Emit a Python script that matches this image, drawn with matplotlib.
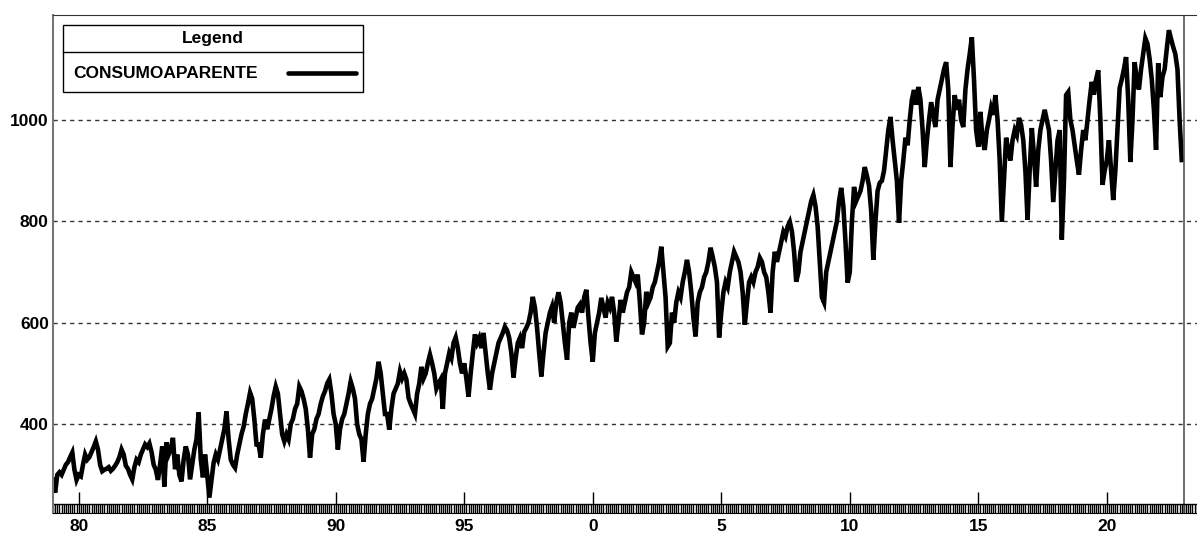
import numpy as np
import matplotlib.pyplot as plt
from matplotlib.ticker import MultipleLocator
from matplotlib.patches import Rectangle

plt.rcParams['font.family'] = ['Liberation Sans', 'DejaVu Sans']
plt.rcParams['font.weight'] = 'bold'

series_name = 'CONSUMOAPARENTE'
start_year = 1979
# monthly values, one row per year (Jan..Dec)
consumo = [
    290, 265, 300, 305, 300, 310, 320, 325, 335, 344, 310, 290,    # 1979
    300, 297, 320, 340, 330, 335, 345, 355, 366, 350, 320, 307,    # 1980
    310, 312, 315, 308, 312, 318, 325, 335, 350, 340, 318, 312,    # 1981
    300, 291, 315, 330, 325, 340, 350, 360, 355, 362, 345, 320,    # 1982
    310, 290, 320, 356, 277, 364, 340, 350, 373, 311, 340, 300,    # 1983
    287, 330, 356, 340, 291, 320, 350, 370, 423, 330, 295, 340,    # 1984
    300, 255, 290, 324, 340, 330, 350, 370, 390, 425, 370, 330,    # 1985
    320, 314, 340, 360, 380, 395, 420, 440, 462, 450, 410, 360,    # 1986
    360, 334, 380, 409, 390, 410, 430, 455, 474, 460, 420, 380,    # 1987
    366, 380, 370, 400, 410, 430, 440, 474, 465, 450, 430, 390,    # 1988
    334, 380, 390, 410, 420, 440, 455, 465, 480, 488, 460, 420,    # 1989
    400, 350, 390, 410, 420, 440, 460, 484, 470, 450, 400, 380,    # 1990
    370, 326, 380, 420, 440, 450, 470, 490, 523, 500, 460, 420,    # 1991
    420, 389, 430, 460, 470, 480, 504, 490, 500, 488, 452, 440,    # 1992
    430, 420, 460, 480, 513, 490, 500, 520, 537, 520, 500, 470,    # 1993
    480, 488, 430, 500, 520, 540, 530, 560, 571, 550, 520, 500,    # 1994
    520, 490, 454, 500, 540, 577, 560, 570, 550, 580, 540, 500,    # 1995
    468, 500, 520, 540, 560, 570, 580, 592, 585, 570, 540, 492,    # 1996
    530, 560, 570, 550, 582, 590, 600, 620, 651, 630, 590, 540,    # 1997
    494, 540, 580, 600, 620, 632, 600, 640, 660, 640, 600, 560,    # 1998
    527, 600, 620, 590, 610, 630, 636, 620, 650, 665, 610, 560,    # 1999
    523, 580, 600, 620, 649, 630, 610, 640, 630, 651, 620, 563,    # 2000
    600, 645, 620, 640, 660, 670, 700, 690, 680, 695, 640, 577,    # 2001
    600, 661, 640, 650, 670, 680, 700, 720, 750, 700, 650, 553,    # 2002
    560, 620, 600, 640, 660, 650, 680, 700, 724, 700, 660, 610,    # 2003
    573, 640, 660, 670, 690, 700, 720, 748, 730, 710, 680, 571,    # 2004
    620, 660, 680, 670, 700, 720, 740, 730, 720, 700, 660, 596,    # 2005
    640, 680, 690, 680, 700, 710, 728, 720, 700, 690, 660, 620,    # 2006
    700, 740, 720, 740, 760, 779, 770, 790, 799, 780, 740, 681,    # 2007
    699, 740, 760, 780, 800, 820, 840, 852, 830, 790, 720, 650,    # 2008
    640, 700, 720, 740, 760, 780, 800, 840, 866, 830, 760, 679,    # 2009
    700, 800, 868, 840, 850, 860, 880, 907, 890, 870, 820, 724,    # 2010
    800, 860, 876, 880, 900, 940, 980, 1006, 960, 920, 880, 797,   # 2011
    880, 920, 965, 950, 1000, 1040, 1059, 1030, 1065, 1040, 980, 907,   # 2012
    960, 1000, 1035, 1010, 986, 1040, 1060, 1080, 1100, 1114, 1060, 907,  # 2013
    990, 1049, 1020, 1040, 1000, 986, 1060, 1100, 1130, 1163, 1080, 980,  # 2014
    947, 1016, 960, 941, 980, 1000, 1024, 1010, 1049, 1000, 920, 799,    # 2015
    880, 965, 940, 920, 960, 980, 970, 1004, 990, 960, 900, 803,         # 2016
    900, 984, 930, 868, 940, 980, 1000, 1020, 1000, 980, 920, 838,       # 2017
    900, 960, 980, 764, 880, 1049, 1055, 1000, 980, 950, 920, 892,       # 2018
    940, 980, 960, 1000, 1040, 1075, 1050, 1080, 1098, 1000, 872, 900,   # 2019
    920, 960, 900, 842, 900, 980, 1063, 1080, 1100, 1124, 1040, 917,     # 2020
    1000, 1114, 1080, 1060, 1100, 1130, 1161, 1150, 1120, 1080, 1020, 941,  # 2021
    1112, 1045, 1085, 1100, 1140, 1177, 1160, 1144, 1130, 1100, 1000, 921,  # 2022
]
tick_years = [1980, 1985, 1990, 1995, 2000, 2005, 2010, 2015, 2020]
tick_labels = ['80', '85', '90', '95', '0', '5', '10', '15', '20']
y_ticks = [400, 600, 800, 1000]
forecast_start = 2023

t = start_year + np.arange(len(consumo)) / 12.0

fig = plt.figure(figsize=(11.97, 5.33), dpi=100)
ax = fig.add_axes([53 / 1197, 1 - 513 / 533, 1 - 53 / 1197, (513 - 15) / 533])

ax.plot(t, consumo, color='black', lw=3.3, solid_joinstyle='miter')
ax.axvline(forecast_start, color='#555555', lw=1.2)

ax.set_xlim(1979.0, 2023.51)
ax.set_ylim(224.7, 1207)

ax.set_yticks(y_ticks)
ax.set_yticklabels([str(v) for v in y_ticks], fontsize=12.5, fontweight='bold')
ax.tick_params(axis='y', length=0, pad=3)
for v in y_ticks:
    ax.axhline(v, color='#333333', lw=1, ls=(0, (3, 3)), zorder=0)

ax.set_xticks(tick_years)
ax.set_xticklabels(tick_labels, fontsize=12.5, fontweight='bold')
ax.xaxis.set_minor_locator(MultipleLocator(1 / 12))
ax.tick_params(axis='x', which='major', direction='in', length=15, width=1, pad=4)
ax.tick_params(axis='x', which='minor', direction='in', length=6.5, width=1.0,
               color='black')
ax.tick_params(top=False, right=False)
# top edge of the tick strip
ax.plot([0, 1], [9 / 498, 9 / 498], transform=ax.transAxes, color='black', lw=1)

ax.spines['right'].set_visible(False)
ax.spines['left'].set_color('#777777')
ax.spines['left'].set_linewidth(1.5)
ax.spines['top'].set_color('#333333')
ax.spines['bottom'].set_color('black')

# legend box drawn like the original (title row + entry row)
def px(x, y):
    return (x - 53) / 1144, 1 - (y - 15) / 498

x0, y0 = px(63, 92)
x1, y1 = px(363, 25)
ax.add_patch(Rectangle((x0, y0), x1 - x0, y1 - y0, transform=ax.transAxes,
                       facecolor='white', edgecolor='black', lw=1, zorder=5))
sx0, sy = px(63, 52)
sx1, _ = px(363, 52)
ax.plot([sx0, sx1], [sy, sy], transform=ax.transAxes, color='black', lw=1, zorder=6)
tx, ty = px(213, 38)
ax.text(tx, ty, 'Legend', transform=ax.transAxes, ha='center', va='center',
        fontsize=12.5, fontweight='bold', zorder=7)
ex, ey = px(73, 73)
ax.text(ex, ey, series_name, transform=ax.transAxes, ha='left', va='center',
        fontsize=12.5, fontweight='bold', zorder=7)
lx0, ly = px(288, 73)
lx1, _ = px(356, 73)
ax.plot([lx0, lx1], [ly, ly], transform=ax.transAxes, color='black', lw=3.3,
        solid_capstyle='round', zorder=7)

fig.savefig('out.png', dpi=100)
